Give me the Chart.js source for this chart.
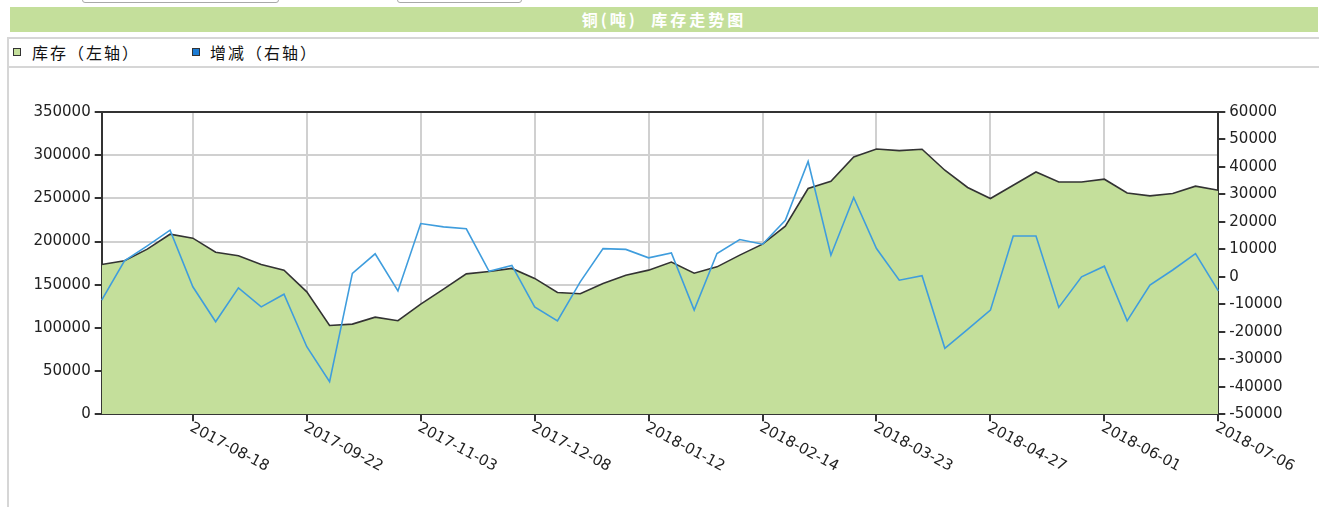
<!DOCTYPE html>
<html>
<head>
<meta charset="utf-8">
<title>铜(吨) 库存走势图</title>
<script src="https://cdn.jsdelivr.net/npm/chart.js@4/dist/chart.umd.min.js"></script>
<style>
  body { margin: 0; background: #fff; overflow: hidden; width: 1319px; height: 507px; position: relative; }
  .inp { position: absolute; top: -20px; height: 21px; border: 1px solid #a9a9a9; border-radius: 3px; background: #fff; }
  .titlebar {
    position: absolute; left: 10px; top: 7px; width: 1308px; height: 25px;
    background: #c4df9b; color: #fff; font: bold 16px "Noto Sans CJK SC", sans-serif;
    letter-spacing: 3px; text-align: center; line-height: 25px;
  }
  .hline { position: absolute; left: 7px; width: 1312px; height: 2px; background: #d6d6d6; }
  .vline { position: absolute; left: 7px; top: 38px; width: 2px; height: 469px; background: #d6d6d6; }
  .legend { position: absolute; top: 42px; height: 20px; font: 16px "Noto Sans CJK SC", sans-serif; letter-spacing: 2px; color: #111; line-height: 20px; }
  .legend i { position: absolute; top: 6px; width: 6px; height: 6px; border: 1px solid #333; }
  .legend span { position: absolute; white-space: nowrap; }
  #wrap { position: absolute; left: 9px; top: 39px; width: 1310px; height: 468px; }
</style>
</head>
<body>
<div class="inp" style="left:82px;width:195px"></div>
<div class="inp" style="left:397px;width:123px"></div>
<div class="titlebar">铜(吨)&nbsp;&nbsp;库存走势图</div>
<div class="hline" style="top:37px"></div>
<div class="hline" style="top:66px"></div>
<div class="vline"></div>
<div class="legend" style="left:13px"><i style="left:0;background:#c4df9b"></i><span style="left:19px">库存（左轴）</span></div>
<div class="legend" style="left:192px"><i style="left:0;background:#1c7cd5"></i><span style="left:18px">增减（右轴）</span></div>
<div id="wrap"><canvas id="stockChart" width="1310" height="468"></canvas></div>
<script>
const ctxStock = document.getElementById("stockChart");

const dates = [
  "2017-07-21", "2017-07-28", "2017-08-04", "2017-08-11", "2017-08-18",
  "2017-08-25", "2017-09-01", "2017-09-08", "2017-09-15", "2017-09-22",
  "2017-09-29", "2017-10-13", "2017-10-20", "2017-10-27", "2017-11-03",
  "2017-11-10", "2017-11-17", "2017-11-24", "2017-12-01", "2017-12-08",
  "2017-12-15", "2017-12-22", "2017-12-29", "2018-01-05", "2018-01-12",
  "2018-01-19", "2018-01-26", "2018-02-02", "2018-02-09", "2018-02-14",
  "2018-02-23", "2018-03-02", "2018-03-09", "2018-03-16", "2018-03-23",
  "2018-03-30", "2018-04-04", "2018-04-13", "2018-04-20", "2018-04-27",
  "2018-05-04", "2018-05-11", "2018-05-18", "2018-05-25", "2018-06-01",
  "2018-06-08", "2018-06-15", "2018-06-22", "2018-06-29", "2018-07-06",
];

// 库存 (left axis)
const stock = [
  173500, 177700, 191200, 208500, 203900, 187700, 183500, 173500, 166900, 141800,
  102900, 104400, 112500, 108300, 127600, 144900, 162600, 165400, 168900, 157300,
  141100, 139500, 151500, 161100, 166900, 176200, 163400, 170700, 184300, 197000,
  217800, 261400, 269900, 298000, 307200, 305300, 306900, 282600, 262600, 249800,
  265200, 280600, 269000, 269000, 272200, 256300, 252900, 255600, 264100, 259500,
];

// 增减 (right axis)
const change = [
  -8450, 5840, 11300, 17000, -3600, -16300, -4000, -10900, -6300, -25400,
  -38100, 1250, 8400, -5100, 19400, 18200, 17500, 2000, 4150, -10900,
  -16000, -1800, 10300, 10000, 6930, 8750, -12100, 8500, 13600, 11900,
  20600, 42000, 7900, 28900, 10300, -1200, 400, -26000, -19100, -12100,
  14900, 14900, -11100, 0, 3900, -16000, -3000, 2500, 8500, -5070,
];

const labelEvery = 5;
const axisFont = { family: "DejaVu Sans", size: 15 };

// rotated date labels, starting at the tick and running down to the right
const dateLabels = {
  id: "dateLabels",
  afterDraw(chart) {
    const { ctx } = chart;
    const x = chart.scales.x;
    ctx.save();
    ctx.font = '15px "DejaVu Sans"';
    ctx.fillStyle = "#222";
    ctx.textAlign = "left";
    ctx.textBaseline = "top";
    x.ticks.forEach((t, i) => {
      if (i % labelEvery !== labelEvery - 1) return;
      ctx.save();
      ctx.translate(x.getPixelForTick(i) + 1.5, x.top + 6);
      ctx.rotate((28 * Math.PI) / 180);
      ctx.fillText(x.getLabelForValue(t.value), 0, 0);
      ctx.restore();
    });
    ctx.restore();
  },
};

new Chart(ctxStock, {
  type: "line",
  plugins: [dateLabels],
  data: {
    labels: dates,
    datasets: [
      {
        label: "增减（右轴）",
        data: change,
        yAxisID: "y1",
        borderColor: "#3f9ddd",
        borderWidth: 1.6,
        pointRadius: 0,
        fill: false,
        order: 0,
      },
      {
        label: "库存（左轴）",
        data: stock,
        yAxisID: "y",
        borderColor: "#333",
        backgroundColor: "#c4df9b",
        borderWidth: 1.6,
        pointRadius: 0,
        fill: "origin",
        order: 1,
      },
    ],
  },
  options: {
    responsive: false,
    animation: false,
    layout: { padding: { top: 73, left: 0, right: 0, bottom: 0 } },
    plugins: {
      legend: { display: false },
      tooltip: { enabled: false },
    },
    scales: {
      x: {
        afterFit: (s) => { s.height = 92.7; },
        ticks: { display: false, autoSkip: false },
        grid: {
          color: (c) => (c.index % labelEvery === labelEvery - 1 ? "#d0d0d0" : "rgba(0,0,0,0)"),
          tickColor: (c) => (c.index % labelEvery === labelEvery - 1 ? "#333" : "rgba(0,0,0,0)"),
          lineWidth: 2,
          tickLength: 7,
        },
        border: { color: "#333", width: 2 },
      },
      y: {
        position: "left",
        min: 0,
        max: 350000,
        afterFit: (s) => { s.width = 92.7; },
        ticks: { stepSize: 50000, color: "#222", font: axisFont, padding: 4, callback: (v) => String(v) },
        grid: {
          color: (c) => (c.tick && c.tick.value === 350000 ? "#333" : "#d0d0d0"),
          tickColor: "#333",
          lineWidth: 2,
          tickLength: 7,
        },
        border: { color: "#333", width: 2 },
      },
      y1: {
        position: "right",
        min: -50000,
        max: 60000,
        afterFit: (s) => { s.width = 100.7; },
        ticks: { stepSize: 10000, color: "#222", font: axisFont, padding: 4, callback: (v) => String(v) },
        grid: { drawOnChartArea: false, tickColor: "#333", lineWidth: 2, tickLength: 7 },
        border: { color: "#333", width: 2 },
      },
    },
  },
});
</script>
</body>
</html>
